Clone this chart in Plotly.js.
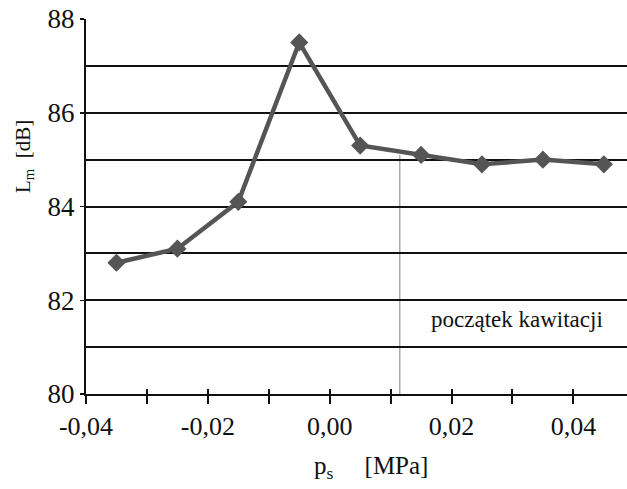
<!DOCTYPE html>
<html><head><meta charset="utf-8">
<script src="https://cdn.plot.ly/plotly-3.0.1.min.js"></script>
<style>html,body{margin:0;padding:0;background:#fff}#c{width:627px;height:489px}</style>
</head><body><div id="c"></div>
<script>
const ps = [-0.035, -0.025, -0.015, -0.005, 0.005, 0.015, 0.025, 0.035, 0.045];
const Lm = [82.8, 83.1, 84.1, 87.5, 85.3, 85.1, 84.9, 85.0, 84.9];
const xTicks = [-0.04, -0.02, 0.00, 0.02, 0.04];
const xTickLabels = ['-0,04', '-0,02', '0,00', '0,02', '0,04'];
const xMinorTicks = [-0.04, -0.03, -0.02, -0.01, 0, 0.01, 0.02, 0.03, 0.04];
const yTicks = [80, 82, 84, 86, 88];
const cavitationStart = 0.0115;
const cavLabel = 'początek kawitacji';
const xTitle = 'p<sub>s</sub>&nbsp;&nbsp;&nbsp;&nbsp;&nbsp;[MPa]';
const yTitle = 'L<sub>m</sub>&nbsp;&nbsp;[dB]';

const FAM = 'Liberation Serif';
const INK = '#111';
const data = [{
  x: ps, y: Lm, type: 'scatter', mode: 'lines+markers',
  line: {color: '#555', width: 4.5},
  marker: {symbol: 'diamond', size: 14, color: '#555'},
  hoverinfo: 'skip'
}, {
  x: ps, y: Lm, xaxis: 'x2', type: 'scatter', mode: 'none', hoverinfo: 'skip', showlegend: false
}];
const layout = {
  width: 627, height: 489,
  margin: {l: 86, r: 0, t: 19, b: 95},
  paper_bgcolor: '#fff', plot_bgcolor: '#fff',
  showlegend: false,
  font: {family: FAM, color: INK, size: 20},
  xaxis: {
    range: [-0.04, 0.0488], tickvals: xTicks, ticktext: xTickLabels,
    showgrid: false, zeroline: false,
    showline: true, linecolor: INK, linewidth: 2,
    ticks: 'outside', ticklen: 8, tickwidth: 2, tickcolor: INK,
    minor: {dtick: 0.01, tick0: -0.04, ticks: 'outside', ticklen: 8, tickwidth: 2, tickcolor: INK, showgrid: false},
    tickfont: {size: 26, family: FAM, color: INK}
  },
  xaxis2: {
    overlaying: 'x', matches: 'x', side: 'bottom', anchor: 'y',
    range: [-0.04, 0.0488], tickvals: xMinorTicks,
    showticklabels: false, showgrid: false, zeroline: false, showline: false,
    ticks: 'inside', ticklen: 5, tickwidth: 2, tickcolor: INK
  },
  yaxis: {
    range: [80, 88], tickvals: yTicks,
    showgrid: false, zeroline: false,
    showline: true, linecolor: INK, linewidth: 2,
    ticks: 'outside', ticklen: 4, tickwidth: 1.5, tickcolor: INK,
    minor: {dtick: 1, showgrid: true, gridcolor: INK, gridwidth: 2},
    tickfont: {size: 27, family: FAM, color: INK}
  },
  shapes: [
    {type: 'line', xref: 'x', yref: 'y', x0: cavitationStart, x1: cavitationStart, y0: 80, y1: 85.1,
     line: {color: '#aaa', width: 1.5}, layer: 'below'}
  ],
  annotations: [
    {xref: 'x', yref: 'y', x: 0.0307, y: 81.58, text: cavLabel, showarrow: false,
     font: {size: 23, family: FAM, color: INK}},
    {xref: 'paper', yref: 'paper', x: 0.418, y: -0.195, xanchor: 'left', yanchor: 'middle',
     text: xTitle, showarrow: false, font: {size: 25, family: FAM, color: INK}},
    {xref: 'paper', yref: 'paper', x: -0.1146, y: 0.632, xanchor: 'center', yanchor: 'middle',
     textangle: -90, text: yTitle, showarrow: false, font: {size: 21, family: FAM, color: INK}}
  ]
};
Plotly.newPlot('c', data, layout, {displayModeBar: false, staticPlot: true});
</script></body></html>
